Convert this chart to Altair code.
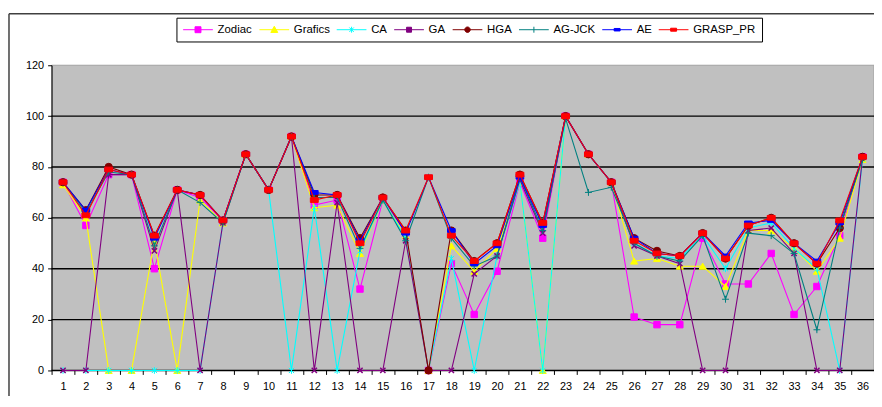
import altair as alt
import pandas as pd

categories = list(range(1, 37))
series_names = ["Zodiac", "Grafics", "CA", "GA", "HGA", "AG-JCK", "AE", "GRASP_PR"]
series_colors = ["#FF00FF", "#FFFF00", "#00FFFF", "#800080", "#800000", "#008080", "#0000FF", "#FF0000"]

zodiac = [74, 57, 77, 77, 40, 71, 68, 59, 85, 71, 92, 65, 67, 32, 67, 54, 0, 42, 22, 39,
          74, 52, 100, 85, 74, 21, 18, 18, 52, 34, 34, 46, 22, 33, 53, 84]
grafics = [73, 60, 0, 0, 51, 0, 67, 58, 85, 71, 92, 64, 65, 46, 67, 53, 0, 49, 39, 48,
           74, 0, 100, 85, 74, 43, 44, 41, 41, 33, 55, 55, 48, 39, 52, 83]
ca = [0, 0, 0, 0, 0, 0, 0, 58, 85, 71, 0, 64, 0, 47, 67, 52, 0, 44, 0, 45,
      74, 0, 100, 85, 74, 50, 45, 44, 53, 40, 56, 58, 48, 40, 0, 83]
ga = [0, 0, 77, 77, 47, 71, 0, 58, 85, 71, 92, 0, 66, 0, 0, 51, 0, 0, 38, 45,
      75, 54, 100, 85, 74, 49, 45, 42, 0, 0, 55, 56, 46, 0, 0, 84]
hga = [74, 63, 80, 77, 53, 71, 69, 59, 85, 71, 92, 69, 69, 52, 68, 55, 0, 55, 43, 50,
       77, 58, 100, 85, 74, 52, 47, 45, 54, 44, 57, 60, 50, 42, 56, 84]
ag_jck = [74, 62, 78, 77, 49, 71, 66, 58, 85, 71, 92, 68, 68, 48, 67, 51, 76, 52, 41, 45,
          76, 55, 99, 70, 72, 50, 45, 43, 53, 28, 54, 53, 46, 16, 56, 83]
ae = [74, 63, 79, 77, 52, 71, 69, 59, 85, 71, 92, 70, 69, 51, 68, 54, 76, 55, 42, 49,
      76, 57, 100, 85, 74, 52, 46, 45, 54, 45, 58, 59, 50, 43, 58, 84]
grasp_pr = [74, 61, 79, 77, 53, 71, 69, 59, 85, 71, 92, 67, 69, 50, 68, 55, 76, 53, 43, 50,
            77, 58, 100, 85, 74, 51, 46, 45, 54, 44, 57, 60, 50, 42, 59, 84]

y_ticks = [0, 20, 40, 60, 80, 100, 120]
grid_values = [20, 40, 60, 80, 100]
baseline_values = [0]

all_values = [zodiac, grafics, ca, ga, hga, ag_jck, ae, grasp_pr]
rows = []
for name, vals in zip(series_names, all_values):
    for c, v in zip(categories, vals):
        rows.append({"cat": c, "series": name, "value": v})
df = pd.DataFrame(rows)

FONT = "Liberation Sans, Arial, sans-serif"
W, H = 830, 308

markers = {
    "Zodiac": ("square", 42, 1),
    "Grafics": ("triangle-up", 50, 1),
    "CA": ("M-1,-1L1,1M-1,1L1,-1M0,-1.3V1.3", 28, 1),
    "GA": ("M-1,-1L1,1M-1,1L1,-1", 28, 1.5),
    "HGA": ("circle", 55, 1),
    "AG-JCK": ("M-1.1,0H1.1M0,-1.1V1.1", 40, 1),
    "AE": ("M-1,-0.5H1V0.5H-1Z", 60, 1),
    "GRASP_PR": ("M-1,-0.6H1V0.6H-1Z", 64, 1),
}

legend_paths = [
    "M-3,0H3M-0.6,-0.6H0.6V0.6H-0.6Z",
    "M-3,0H3M0,-0.7L0.7,0.55H-0.7Z",
    "M-3,0H3M-0.45,-0.45L0.45,0.45M-0.45,0.45L0.45,-0.45M0,-0.6V0.6",
    "M-3,0H3M-0.5,-0.5H0.5V0.5H-0.5Z",
    "M-3,0H3M0.55,0A0.55,0.55 0 1,1 -0.55,0A0.55,0.55 0 1,1 0.55,0Z",
    "M-3,0H3M0,-0.6V0.6",
    "M-3,0H3M-0.6,-0.25H0.6V0.25H-0.6Z",
    "M-3,0H3M-0.6,-0.3H0.6V0.3H-0.6Z",
]

y_scale = alt.Scale(domain=[0, 120], nice=False)

x_enc = alt.X(
    "cat:O",
    scale=alt.Scale(paddingInner=0, paddingOuter=0),
    axis=alt.Axis(
        tickBand="extent", labelAngle=0, title=None, grid=False, domain=False,
        tickColor="black", tickSize=4, labelPadding=6, zindex=1,
        labelFont=FONT, labelFontSize=11, labelColor="black", labelOverlap=False,
    ),
)
y_enc = alt.Y(
    "value:Q",
    scale=y_scale,
    axis=alt.Axis(
        values=y_ticks, title=None, grid=False, zindex=1,
        domainColor="black", tickColor="black", tickSize=4, labelPadding=4,
        labelFont=FONT, labelFontSize=11, labelColor="black",
    ),
)

one_df = pd.DataFrame({"k": [0]})

# plot area background
plot_bg = alt.Chart(one_df).mark_rect(color="#C0C0C0", stroke="#A0A0A0", strokeWidth=1).encode(
    x=alt.value(0), x2=alt.value(W), y=alt.value(0), y2=alt.value(H)
)
# horizontal gridlines and baseline, placed through the y scale
grid = alt.Chart(pd.DataFrame({"value": grid_values})).mark_rule(color="black", strokeWidth=1.4).encode(
    y=y_enc, x=alt.value(0), x2=alt.value(W)
)
baseline = alt.Chart(pd.DataFrame({"value": baseline_values})).mark_rule(color="black", strokeWidth=1.4).encode(
    y=y_enc, x=alt.value(0), x2=alt.value(W)
)

base = alt.Chart(df)
layers = []
for name, color in zip(series_names, series_colors):
    shp, sz, sw = markers[name]
    sub = base.transform_filter(alt.datum.series == name)
    layers.append(sub.mark_line(color=color, strokeWidth=1.1).encode(x=x_enc, y=y_enc))
    layers.append(
        sub.mark_point(shape=shp, size=sz, filled=True, fill=color, stroke=color,
                       strokeWidth=sw, opacity=1).encode(x=x_enc, y=y_enc)
    )

leg = alt.Legend(
    title=None, orient="none", legendX=126, legendY=-48, direction="horizontal", columns=8,
    symbolSize=100, symbolOffset=10, labelOffset=14, symbolStrokeWidth=1,
    labelFont=FONT, labelFontSize=11.5, labelColor="black",
    strokeColor="black", fillColor="white", padding=6, columnPadding=4,
)
legend_layer = alt.Chart(df).transform_filter("false").mark_point(
    filled=True, opacity=1, strokeWidth=1
).encode(
    shape=alt.Shape("series:N", scale=alt.Scale(domain=series_names, range=legend_paths), legend=leg),
    fill=alt.Fill("series:N", scale=alt.Scale(domain=series_names, range=series_colors), legend=leg),
    stroke=alt.Stroke("series:N", scale=alt.Scale(domain=series_names, range=series_colors), legend=leg),
)

frame_left = alt.Chart(one_df).mark_rule(color="#404040", strokeWidth=1.5).encode(
    x=alt.value(-43), y=alt.value(-52), y2=alt.value(340)
)
frame_top = alt.Chart(one_df).mark_rule(color="#404040", strokeWidth=1.5).encode(
    x=alt.value(-43), x2=alt.value(W + 10), y=alt.value(-52)
)

chart = alt.layer(frame_left, frame_top, plot_bg, grid, baseline, *layers, legend_layer).properties(
    width=W, height=H,
    autosize=alt.AutoSizeParams(type="none"),
    padding={"left": 44, "top": 56, "right": 0, "bottom": 24},
    background="white",
).configure_view(strokeWidth=0)

chart.save("out.html", embed_options={"renderer": "svg", "actions": False})
